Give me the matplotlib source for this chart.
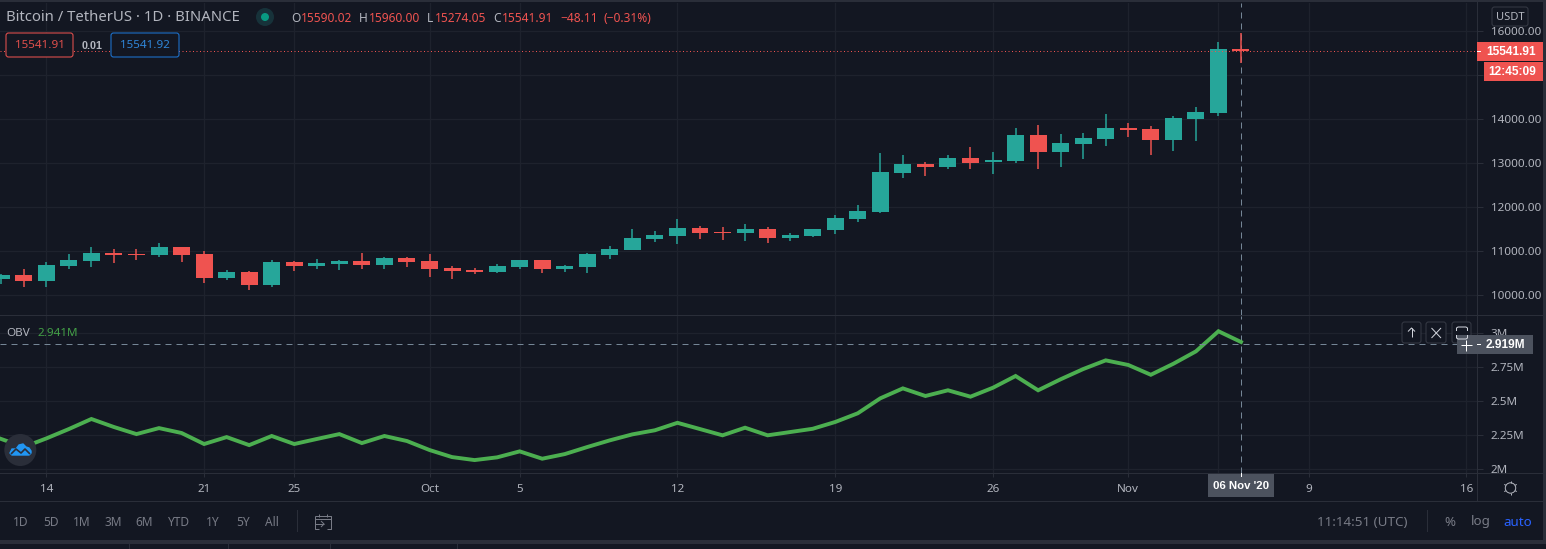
import numpy as np
import matplotlib
matplotlib.use('Agg')
import matplotlib.pyplot as plt
from matplotlib.patches import Rectangle, FancyBboxPatch, Circle

plt.rcParams['font.family'] = ['Noto Sans', 'DejaVu Sans']

# Daily candles, day 0 = 14 Sep 2020
days = list(range(-2, 54))
opens = [10364, 10455, 10318, 10659, 10773, 10955, 10932, 10909, 11091, 10932,
         10386, 10523, 10227, 10750, 10659, 10705, 10773, 10682, 10841, 10773,
         10614, 10568, 10523, 10636, 10795, 10591, 10636, 10909, 11023, 11273,
         11341, 11523, 11432, 11409, 11500, 11295, 11341, 11477, 11727, 11886,
         12773, 12977, 12909, 13114, 13023, 13045, 13636, 13250, 13432, 13545,
         13795, 13773, 13523, 14000, 14136, 15590.02]
highs = [10477, 10590, 10750, 10932, 11091, 11045, 11045, 11182, 11091, 11000,
         10568, 10545, 10795, 10773, 10818, 10795, 10955, 10864, 10864, 10932,
         10659, 10614, 10705, 10795, 10795, 10682, 10955, 11114, 11500, 11455,
         11727, 11568, 11545, 11614, 11545, 11409, 11500, 11818, 12045, 13227,
         13182, 13023, 13182, 13364, 13250, 13795, 13864, 13659, 13682, 14114,
         13909, 13841, 14068, 14273, 15750, 15960.00]
lows = [10250, 10182, 10182, 10591, 10636, 10727, 10795, 10864, 10750, 10273,
        10341, 10114, 10182, 10545, 10591, 10568, 10591, 10591, 10636, 10409,
        10364, 10477, 10500, 10591, 10500, 10523, 10500, 10818, 11023, 11205,
        11159, 11273, 11250, 11227, 11182, 11227, 11318, 11386, 11659, 11864,
        12659, 12705, 12864, 12864, 12750, 13000, 12864, 12909, 13091, 13386,
        13591, 13182, 13273, 13500, 14068, 15274.05]
closes = [10455, 10318, 10682, 10795, 10955, 10909, 10909, 11091, 10909, 10386,
          10523, 10227, 10750, 10659, 10727, 10773, 10682, 10841, 10750, 10591,
          10545, 10523, 10659, 10795, 10591, 10659, 10932, 11045, 11295, 11364,
          11523, 11409, 11409, 11500, 11295, 11364, 11500, 11750, 11909, 12795,
          12977, 12909, 13114, 13000, 13068, 13636, 13250, 13455, 13568, 13795,
          13750, 13523, 14023, 14159, 15591, 15541.91]

# On balance volume, millions
obv = [2.221, 2.162, 2.225, 2.294, 2.368, 2.309, 2.257, 2.301, 2.265, 2.184,
       2.235, 2.176, 2.243, 2.184, 2.221, 2.257, 2.191, 2.243, 2.206, 2.140,
       2.088, 2.066, 2.086, 2.130, 2.076, 2.110, 2.162, 2.211, 2.255, 2.285,
       2.340, 2.294, 2.248, 2.304, 2.248, 2.272, 2.296, 2.346, 2.410, 2.520,
       2.593, 2.537, 2.579, 2.532, 2.598, 2.684, 2.579, 2.660, 2.735, 2.799,
       2.765, 2.693, 2.774, 2.865, 3.013, 2.934]

price_ticks = [10000, 11000, 12000, 13000, 14000, 15000, 16000]
# 15000 sits behind the countdown box in the original
price_labels = ['10000.00', '11000.00', '12000.00', '13000.00', '14000.00', '', '16000.00']
obv_ticks = [2.0, 2.25, 2.5, 2.75, 3.0]
obv_labels = ['2M', '2.25M', '2.5M', '2.75M', '3M']
date_ticks = [0, 7, 11, 17, 21, 28, 35, 42, 48, 52, 56, 63]
date_labels = ['14', '21', '25', 'Oct', '5', '12', '19', '26', 'Nov', '', '9', '16']
ranges = ['1D', '5D', '1M', '3M', '6M', 'YTD', '1Y', '5Y', 'All']
range_x = [21, 51, 82, 113, 144, 179, 213, 243, 272]

last_price = 15541.91
cursor_obv = 2.919
cursor_day = 53

BG = '#131722'
GRID = '#1e222d'
BORDER = '#2a2e39'
UP = '#26a69a'
DOWN = '#ef5350'
TEXT = '#b2b5be'
DIM = '#787b86'
CROSS = '#758696'
W, H = 1546, 549
PX = 0.72  # one pixel in points at dpi 100


def pane(fig, top, bottom):
    return fig.add_axes([0, 1 - bottom / H, 1477 / W, (bottom - top) / H], facecolor=BG)


fig = plt.figure(figsize=(W / 100, H / 100), dpi=100, facecolor=BG)
ax = pane(fig, 3, 315)
ob = pane(fig, 316, 473)

for a in (ax, ob):
    a.set_xlim(-2.054, 63.47)
    a.set_xticks(date_ticks)
    a.yaxis.tick_right()
    a.grid(True, color=GRID, linewidth=PX * 1.2)
    a.set_axisbelow(True)
    for s in a.spines.values():
        s.set_visible(False)
    a.tick_params(axis='y', length=4, width=PX, color=BORDER, labelcolor=TEXT, labelsize=8.4, pad=6)
    a.axvline(cursor_day, color=CROSS, linewidth=PX, linestyle=(0, (6, 5)), zorder=1.5)

# candles
o = np.array(opens)
c = np.array(closes)
colors = [UP if cl >= op else DOWN for op, cl in zip(opens, closes)]
ax.vlines(days, lows, highs, colors=colors, linewidth=PX * 1.5, zorder=2)
ax.bar(days, np.abs(c - o), bottom=np.minimum(o, c), width=0.754, color=colors, linewidth=0, zorder=3)
ax.axhline(last_price, color=DOWN, linewidth=PX, linestyle=(0, (1, 2.5)), zorder=4)
ax.set_ylim(9545, 16636)
ax.set_yticks(price_ticks)
ax.set_yticklabels(price_labels)
ax.tick_params(axis='x', length=0, labelbottom=False)

# OBV pane
ob.plot(days, obv, color='#4caf50', linewidth=2.8, solid_joinstyle='miter', zorder=3)
ob.axhline(cursor_obv, color=CROSS, linewidth=PX, linestyle=(0, (6, 5)), zorder=4)
ob.set_ylim(1.971, 3.125)
ob.set_yticks(obv_ticks)
ob.set_yticklabels(obv_labels)
ob.set_xticklabels(date_labels)
ob.tick_params(axis='x', length=3, width=PX, color=BORDER, labelcolor=TEXT, labelsize=8.4, pad=5)

# interface furniture, drawn in pixel coordinates on top
ui = fig.add_axes([0, 0, 1, 1], facecolor='none')
ui.set_xlim(0, W)
ui.set_ylim(H, 0)
ui.axis('off')


def rect(x0, y0, x1, y1, color, z=2):
    ui.add_patch(Rectangle((x0, y0), x1 - x0, y1 - y0, facecolor=color, edgecolor='none', zorder=z))


def box(x0, y0, x1, y1, edge, fill=BG, z=3):
    ui.add_patch(FancyBboxPatch((x0, y0), x1 - x0, y1 - y0, boxstyle='round,pad=0,rounding_size=2.5',
                                facecolor=fill, edgecolor=edge, linewidth=PX, zorder=z))


def label(x, y, s, color=TEXT, size=8.4, ha='left', weight='normal', z=6):
    family = 'Liberation Sans' if weight == 'bold' else None
    ui.text(x, y + 1, s, color=color, fontsize=size, ha=ha, va='center', fontweight=weight,
            family=family, zorder=z)


def stroke(xs, ys, color=TEXT, lw=PX, z=7):
    ui.plot(xs, ys, color=color, linewidth=lw, zorder=z, solid_capstyle='butt')


# borders
rect(1477, 473, 1543, 501, BG, z=1)
rect(0, 0, W, 2, BORDER)
rect(0, 315, 1543, 316, BORDER)
rect(0, 473, 1543, 474, BORDER)
rect(0, 501, 1543, 502, BORDER)
rect(1477, 0, 1478, 502, BORDER)
rect(1543, 0, W, 544, BORDER)
rect(0, 540, 1543, 544, BORDER)
for x in (129, 228, 330, 457):
    rect(x, 544, x + 1, H, BORDER)

# header
label(6, 16.5, 'Bitcoin / TetherUS · 1D · BINANCE', size=10.7)
ui.add_patch(Circle((265, 17), 9, facecolor='#17323a', edgecolor='none', zorder=3))
ui.add_patch(Circle((265, 17), 4, facecolor='#089981', edgecolor='none', zorder=4))
for x, s in [(291, 'O'), (359, 'H'), (427, 'L'), (493, 'C')]:
    label(x, 18, s, size=8.6)
for x, s in [(301, '15590.02'), (369, '15960.00'), (435, '15274.05'), (502, '15541.91'),
             (560, '\u221248.11'), (604, '(\u22120.31%)')]:
    label(x, 18, s, color=DOWN, size=8.6)

# bid / ask
box(6, 33, 73, 57, DOWN)
label(39.5, 45, '15541.91', color='#e04f4c', size=8.4, ha='center')
label(92, 45, '0.01', size=7.8, ha='center', weight='bold')
box(111, 33, 179, 57, '#1e78d8')
label(145, 45, '15541.92', color='#2f86d8', size=8.4, ha='center')

# price scale
box(1492, 7, 1528, 26, '#363a45')
label(1510, 16, 'USDT', size=8, ha='center')
rect(1477, 42, 1543, 61, DOWN, z=3)
rect(1477, 51, 1481, 52, '#ffffff', z=4)
label(1486, 51, '15541.91', color='white', size=8.6, weight='bold')
rect(1484, 62, 1543, 81, DOWN, z=3)
label(1488, 71, '12:45:09', color='white', size=8.6, weight='bold')

# OBV legend and buttons
label(6, 332, 'OBV', size=8.4)
label(38, 332, '2.941M', color='#43a047', size=8.4)
for x0, x1 in [(1402, 1421), (1426, 1446), (1452, 1471)]:
    box(x0, 322, x1, 343, '#363a45')
stroke([1411.5, 1411.5], [337, 328], '#d1d4dc')
stroke([1408, 1411.5, 1415], [331.5, 328, 331.5], '#d1d4dc')
stroke([1431.5, 1441], [328, 338], '#d1d4dc')
stroke([1431.5, 1441], [338, 328], '#d1d4dc')
stroke([1456.5, 1456.5, 1458, 1466, 1467.5, 1467.5], [331, 328, 327, 327, 328, 331], '#d1d4dc')
stroke([1456.5, 1456.5, 1458, 1466, 1467.5, 1467.5], [335, 338, 339, 339, 338, 335], '#d1d4dc')

rect(1457, 335, 1533, 354, '#4c525e', z=3)
rect(1477, 344, 1481, 345, '#ffffff', z=4)
label(1486, 344, '2.919M', color='white', size=8.6, weight='bold')
stroke([1460.5, 1471.5], [345, 345], 'white')
stroke([1466, 1466], [339.5, 350.5], 'white')

# time scale
rect(1208, 474, 1274, 497, '#4c525e', z=3)
rect(1241, 473, 1242, 477, '#ffffff', z=4)
label(1241, 485, "06 Nov '20", color='white', size=8.2, ha='center', weight='bold')
ui.add_patch(Circle((1510.5, 488), 5.2, facecolor='none', edgecolor=TEXT, linewidth=PX, zorder=6))
for ang in np.arange(0, 360, 60):
    dx, dy = np.cos(np.radians(ang + 30)), np.sin(np.radians(ang + 30))
    stroke([1510.5 + 5.2 * dx, 1510.5 + 7.2 * dx], [488 + 5.2 * dy, 488 + 7.2 * dy], TEXT)

# logo
ui.add_patch(Circle((20.3, 450), 16, facecolor='#2a2e39', edgecolor='none', zorder=5))
ui.fill([10, 12, 16, 19, 23, 26, 29, 31, 31, 29, 12, 10],
        [453, 449, 449, 445, 444, 447, 448, 451, 453, 455, 455, 453], color='#2196f3', zorder=6)
stroke([11, 16, 21, 25, 30], [454, 449, 453, 449, 454], '#2a2e39', lw=1.2)

# bottom toolbar
for x, s in zip(range_x, ranges):
    label(x, 521, s, color=DIM, size=8.6, ha='center')
rect(297, 510, 298, 532, BORDER)
stroke([319, 315, 315], [529, 529, 516], DIM)
stroke([315, 331, 331, 327], [516, 516, 529, 529], DIM)
stroke([315, 331], [519, 519], DIM)
stroke([315, 324], [524, 524], DIM)
stroke([321, 324, 321], [521, 524, 527], DIM)
stroke([319, 319], [514, 517], DIM)
stroke([327, 327], [514, 517], DIM)

label(1317, 521, '11:14:51 (UTC)', color=DIM, size=9.7)
rect(1427, 510, 1428, 532, BORDER)
label(1450, 521, '%', color=DIM, size=9.6, ha='center')
label(1481, 521, 'log', color=DIM, size=9.6, ha='center')
label(1518, 521, 'auto', color='#2962ff', size=9.6, ha='center')

fig.savefig('out.png', dpi=100, facecolor=BG)
